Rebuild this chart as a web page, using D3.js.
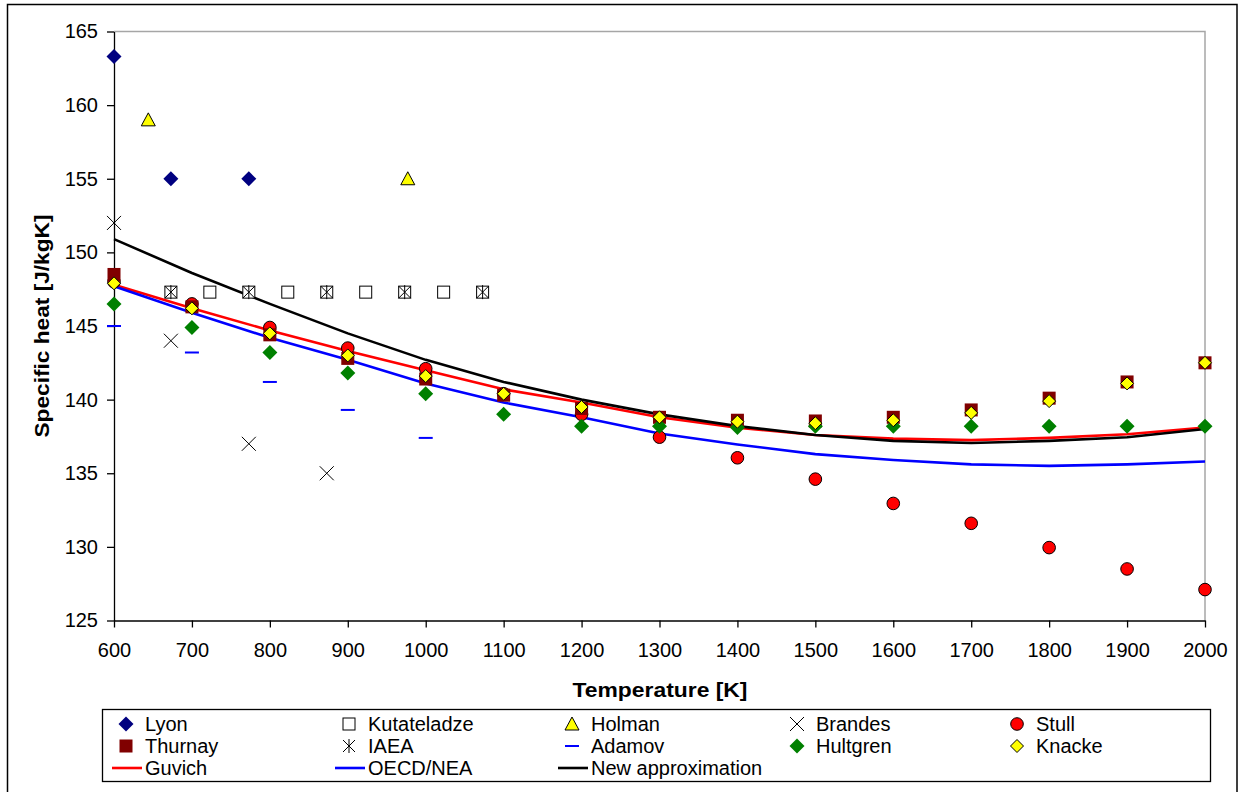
<!DOCTYPE html>
<html>
<head>
<meta charset="utf-8">
<script src="https://cdn.jsdelivr.net/npm/d3@7"></script>
<style>
    body { margin: 0; background: #fff; }
    svg { display: block; font-family: "Liberation Sans", Arial, sans-serif; }
</style>
</head>
<body>
<div id="chart"></div>
<script>

//--- Daten ------------------------------------------------------------------------------------------------ //

var temps = [600, 700, 800, 900, 1000, 1100, 1200, 1300, 1400, 1500, 1600, 1700, 1800, 1900, 2000];

var lyonT = [600, 673, 773];
var lyonCp = [163.3, 155.0, 155.0];

var kutT = [673, 723, 773, 823, 873, 923, 973, 1023, 1073];
var kutCp = [147.3, 147.3, 147.3, 147.3, 147.3, 147.3, 147.3, 147.3, 147.3];

var holmanT = [644, 977];
var holmanCp = [159.0, 155.0];

var brandesT = [600, 673, 773, 873];
var brandesCp = [152.0, 144.0, 137.0, 135.0];

var stullCp = [148.0, 146.5, 144.9, 143.5, 142.1, 140.4, 139.0, 137.45, 136.05, 134.6, 132.95, 131.6, 129.95, 128.5, 127.1];

var thurnayCp = [148.5, 146.3, 144.4, 142.8, 141.4, 140.3, 139.4, 138.8, 138.6, 138.55, 138.8, 139.3, 140.1, 141.2, 142.5];

var iaeaT = [673, 773, 873, 973, 1073];
var iaeaCp = [147.3, 147.3, 147.3, 147.3, 147.3];

var adamovT = [600, 700, 800, 900, 1000];
var adamovCp = [145.0, 143.2, 141.2, 139.3, 137.4];

var hultgrenCp = [146.5, 144.9, 143.2, 141.8, 140.4, 139.0, 138.2, 138.2, 138.1, 138.2, 138.2, 138.2, 138.2, 138.2, 138.2];

var knackeCp = [147.9, 146.2, 144.5, 143.0, 141.6, 140.4, 139.5, 138.8, 138.5, 138.4, 138.6, 139.1, 139.9, 141.1, 142.5];

var guvichCp = [147.8, 146.2, 144.7, 143.3, 142.0, 140.7, 139.8, 138.8, 138.1, 137.6, 137.35, 137.25, 137.4, 137.65, 138.1];

var oecdCp = [147.7, 145.9, 144.2, 142.7, 141.1, 139.8, 138.8, 137.7, 136.95, 136.3, 135.9, 135.6, 135.5, 135.6, 135.8];

var newCp = [150.9, 148.6, 146.5, 144.5, 142.7, 141.2, 140.0, 139.0, 138.2, 137.6, 137.2, 137.05, 137.2, 137.45, 138.0];

var xTicks = d3.range(600, 2001, 100);
var yTicks = d3.range(125, 166, 5);


//--- Hilfsfunktionen -------------------------------------------------------------------------------------- //

function zip(xs, ys) {
    var out = [];
    for (var i = 0; i < xs.length; i++) {
        out.push({t: xs[i], cp: ys[i]});
    }
    return out;
}

function diamondPath(cx, cy, s) {
    return 'M' + cx + ',' + (cy - s) + 'L' + (cx + s) + ',' + cy + 'L' + cx + ',' + (cy + s) + 'L' + (cx - s) + ',' + cy + 'Z';
}

// zeichnet einen Marker an (cx, cy)
function drawMarker(g, shape, cx, cy) {
    var s;
    if (shape == 'diamond-navy' || shape == 'diamond-green') {
        g.append('path')
            .attr('d', diamondPath(cx, cy, 7.5))
            .attr('fill', shape == 'diamond-navy' ? '#000080' : '#008000');
    }
    else if (shape == 'diamond-yellow') {
        g.append('path')
            .attr('d', diamondPath(cx, cy, 6.5))
            .attr('fill', '#ffff00')
            .attr('stroke', '#000')
            .attr('stroke-width', 1);
    }
    else if (shape == 'square-open') {
        s = 6;
        g.append('rect')
            .attr('x', cx - s).attr('y', cy - s)
            .attr('width', 2 * s).attr('height', 2 * s)
            .attr('fill', '#fff')
            .attr('stroke', '#000')
            .attr('stroke-width', 1);
    }
    else if (shape == 'square-red') {
        s = 6.5;
        g.append('rect')
            .attr('x', cx - s).attr('y', cy - s)
            .attr('width', 2 * s).attr('height', 2 * s)
            .attr('fill', '#800000');
    }
    else if (shape == 'triangle') {
        g.append('path')
            .attr('d', 'M' + cx + ',' + (cy - 7) + 'L' + (cx + 7) + ',' + (cy + 6) + 'L' + (cx - 7) + ',' + (cy + 6) + 'Z')
            .attr('fill', '#ffff00')
            .attr('stroke', '#000')
            .attr('stroke-width', 1);
    }
    else if (shape == 'cross') {
        s = 7;
        g.append('path')
            .attr('d', 'M' + (cx - s) + ',' + (cy - s) + 'L' + (cx + s) + ',' + (cy + s) + 'M' + (cx + s) + ',' + (cy - s) + 'L' + (cx - s) + ',' + (cy + s))
            .attr('stroke', '#000')
            .attr('stroke-width', 1);
    }
    else if (shape == 'star') {
        s = 6;
        g.append('path')
            .attr('d', 'M' + (cx - s) + ',' + (cy - s) + 'L' + (cx + s) + ',' + (cy + s) + 'M' + (cx + s) + ',' + (cy - s) + 'L' + (cx - s) + ',' + (cy + s) + 'M' + cx + ',' + (cy - s - 1) + 'L' + cx + ',' + (cy + s + 1))
            .attr('stroke', '#000')
            .attr('stroke-width', 1);
    }
    else if (shape == 'dash') {
        g.append('line')
            .attr('x1', cx - 7).attr('x2', cx + 7)
            .attr('y1', cy).attr('y2', cy)
            .attr('stroke', '#0000ff')
            .attr('stroke-width', 2);
    }
    else if (shape == 'circle') {
        g.append('circle')
            .attr('cx', cx).attr('cy', cy).attr('r', 6.3)
            .attr('fill', '#ff0000')
            .attr('stroke', '#000')
            .attr('stroke-width', 1);
    }
}


//--- SVG mit d3 ------------------------------------------------------------------------------------------- //

var width = 1238, height = 792;
var plotLeft = 114, plotRight = 1205, plotTop = 31.5, plotBottom = 620.5;

var svg = d3.select('#chart').append('svg')
    .attr('width', width)
    .attr('height', height);

// Rahmen um alles
svg.append('rect')
    .attr('x', 7.5).attr('y', 4.5)
    .attr('width', 1229.5).attr('height', 820)
    .attr('fill', '#fff')
    .attr('stroke', '#000')
    .attr('stroke-width', 1.5);

var x = d3.scaleLinear().domain([600, 2000]).range([plotLeft, plotRight]);
var y = d3.scaleLinear().domain([125, 165]).range([plotBottom, plotTop]);

// graue Linien oben und rechts
svg.append('path')
    .attr('d', 'M' + plotLeft + ',' + plotTop + 'H' + plotRight + 'V' + plotBottom)
    .attr('fill', 'none')
    .attr('stroke', '#a6a6a6')
    .attr('stroke-width', 1.5);

var xAxis = svg.append('g')
    .attr('transform', 'translate(0,' + plotBottom + ')')
    .call(d3.axisBottom(x).tickValues(xTicks).tickSize(7).tickSizeOuter(0).tickFormat(d3.format('d')));

var yAxis = svg.append('g')
    .attr('transform', 'translate(' + plotLeft + ',0)')
    .call(d3.axisLeft(y).tickValues(yTicks).tickSize(7).tickSizeOuter(0).tickFormat(d3.format('d')));

[xAxis, yAxis].forEach(function(ax) {
    ax.select('.domain').attr('stroke', '#000').attr('stroke-width', 1.3);
    ax.selectAll('.tick line').attr('stroke', '#000').attr('stroke-width', 1.3);
    ax.selectAll('.tick text')
        .attr('fill', '#000')
        .style('font-size', '20px')
        .style('font-family', '"Liberation Sans", Arial, sans-serif');
});
xAxis.selectAll('.tick text').attr('y', 22);
yAxis.selectAll('.tick text').attr('x', -16);

// Achsentitel
svg.append('text')
    .attr('x', 660).attr('y', 697)
    .attr('text-anchor', 'middle')
    .attr('textLength', 175).attr('lengthAdjust', 'spacingAndGlyphs')
    .style('font-size', '20px').style('font-weight', 'bold')
    .text('Temperature [K]');

svg.append('text')
    .attr('transform', 'translate(49,326) rotate(-90)')
    .attr('text-anchor', 'middle')
    .attr('textLength', 223).attr('lengthAdjust', 'spacingAndGlyphs')
    .style('font-size', '20px').style('font-weight', 'bold')
    .text('Specific heat [J/kgK]');


// Linien
var lineGen = d3.line()
    .x(function(d) { return x(d.t); })
    .y(function(d) { return y(d.cp); });

var lines = [
    {name: 'Guvich', data: guvichCp, color: '#ff0000'},
    {name: 'OECD/NEA', data: oecdCp, color: '#0000ff'},
    {name: 'New approximation', data: newCp, color: '#000000'}
];

lines.forEach(function(l) {
    svg.append('path')
        .datum(zip(temps, l.data))
        .attr('d', lineGen)
        .attr('fill', 'none')
        .attr('stroke', l.color)
        .attr('stroke-width', 2.6)
        .attr('stroke-linejoin', 'round');
});


// Punktreihen
var pointSeries = [
    {name: 'Lyon', shape: 'diamond-navy', t: lyonT, cp: lyonCp},
    {name: 'Kutateladze', shape: 'square-open', t: kutT, cp: kutCp},
    {name: 'Holman', shape: 'triangle', t: holmanT, cp: holmanCp},
    {name: 'Brandes', shape: 'cross', t: brandesT, cp: brandesCp},
    {name: 'Stull', shape: 'circle', t: temps, cp: stullCp},
    {name: 'Thurnay', shape: 'square-red', t: temps, cp: thurnayCp},
    {name: 'IAEA', shape: 'star', t: iaeaT, cp: iaeaCp},
    {name: 'Adamov', shape: 'dash', t: adamovT, cp: adamovCp},
    {name: 'Hultgren', shape: 'diamond-green', t: temps, cp: hultgrenCp},
    {name: 'Knacke', shape: 'diamond-yellow', t: temps, cp: knackeCp}
];

var markers = svg.append('g').attr('id', 'markers');

pointSeries.forEach(function(s) {
    var g = markers.append('g').attr('class', 'series');
    zip(s.t, s.cp).forEach(function(d) {
        drawMarker(g, s.shape, x(d.t), y(d.cp));
    });
});


//--- Legende ---------------------------------------------------------------------------------------------- //

var legend = svg.append('g').attr('id', 'legend');

legend.append('rect')
    .attr('x', 102.5).attr('y', 709.5)
    .attr('width', 1108).attr('height', 72)
    .attr('fill', '#fff')
    .attr('stroke', '#000')
    .attr('stroke-width', 1.3);

var colX = [126, 349, 572, 797, 1017];
var rowY = [724, 746, 768];

var legendItems = pointSeries.map(function(s) { return {name: s.name, shape: s.shape}; })
    .concat(lines.map(function(l) { return {name: l.name, line: l.color}; }));

legendItems.forEach(function(item, i) {
    var cx = colX[i % 5];
    var cy = rowY[Math.floor(i / 5)];
    var g = legend.append('g');
    if (item.line) {
        g.append('line')
            .attr('x1', cx - 14).attr('x2', cx + 16)
            .attr('y1', cy).attr('y2', cy)
            .attr('stroke', item.line)
            .attr('stroke-width', 2.6);
    } else {
        drawMarker(g, item.shape, cx, cy);
    }
    g.append('text')
        .attr('x', cx + 19).attr('y', cy + 7)
        .style('font-size', '20px')
        .text(item.name);
});

</script>
</body>
</html>
